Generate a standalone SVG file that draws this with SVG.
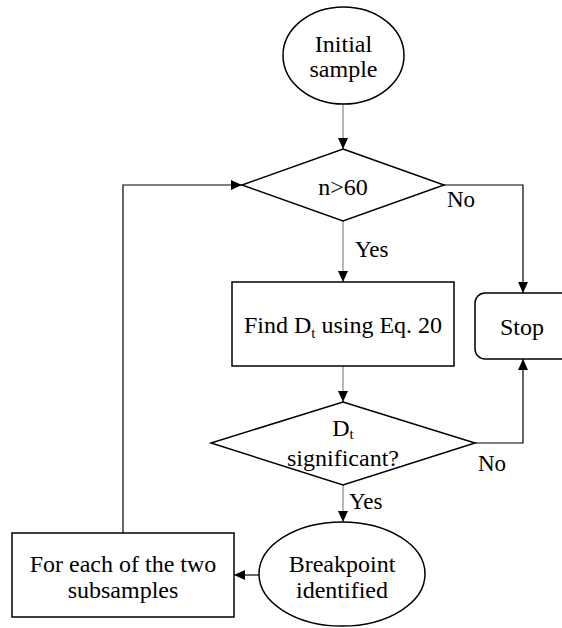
<svg xmlns="http://www.w3.org/2000/svg" width="562" height="628" viewBox="0 0 562 628">
<style>
.shape{fill:#fff;stroke:#000;stroke-width:1.5}
.t{font-family:"Liberation Serif","Times New Roman",serif;font-size:24px;fill:#000;text-anchor:middle}
.l{font-family:"Liberation Serif","Times New Roman",serif;font-size:23px;fill:#000}
.c{fill:none;stroke:#000;stroke-width:1.2}
.g{fill:none;stroke:#888;stroke-width:1.2}
.sub{font-size:15px}
</style>
<defs>
<marker id="ah" markerUnits="userSpaceOnUse" markerWidth="12" markerHeight="12" refX="11" refY="6" orient="auto">
<path d="M0,1 L11,6 L0,11 Z" fill="#000"/>
</marker>
</defs>
<rect width="562" height="628" fill="#fff"/>
<g id="connectors">
<line class="g" x1="343" y1="104" x2="343" y2="149" marker-end="url(#ah)"/>
<line class="g" x1="343" y1="221" x2="343" y2="282" marker-end="url(#ah)"/>
<polyline class="c" points="444,185 523,185 523,293" marker-end="url(#ah)"/>
<line class="g" x1="343" y1="366" x2="343" y2="402" marker-end="url(#ah)"/>
<polyline class="c" points="475,443 523,443 523,359" marker-end="url(#ah)"/>
<line class="g" x1="343" y1="485" x2="343" y2="522" marker-end="url(#ah)"/>
<line class="c" x1="259" y1="575" x2="234" y2="575" marker-end="url(#ah)"/>
<polyline class="c" points="123,533 123,185 242,185" marker-end="url(#ah)"/>
<text class="l" x="447" y="207">No</text>
<text class="l" x="355" y="257">Yes</text>
<text class="l" x="478" y="471">No</text>
<text class="l" x="349" y="509">Yes</text>
</g>
<g id="initial">
<ellipse class="shape" cx="343.5" cy="55.5" rx="60.5" ry="48.5"/>
<text class="t" x="343.5" y="52">Initial</text>
<text class="t" x="343.5" y="77">sample</text>
</g>
<g id="decision1">
<polygon class="shape" points="343,149 444,185 343,221 242,185"/>
<text class="t" x="343" y="195">n&gt;60</text>
</g>
<g id="find">
<rect class="shape" x="232" y="282" width="222" height="84"/>
<text class="t" x="343" y="333">Find D<tspan class="sub" dy="5">t</tspan><tspan dy="-5"> using Eq. 20</tspan></text>
</g>
<g id="stop">
<rect class="shape" x="475" y="293" width="110" height="66" rx="10" ry="10"/>
<text class="t" x="522" y="335">Stop</text>
</g>
<g id="decision2">
<polygon class="shape" points="343,402 475,443 343,485 211,443"/>
<text class="t" x="343" y="436">D<tspan class="sub" dy="3">t</tspan></text>
<text class="t" x="343" y="466">significant?</text>
</g>
<g id="breakpoint">
<ellipse class="shape" cx="342" cy="574" rx="83" ry="52"/>
<text class="t" x="342" y="572">Breakpoint</text>
<text class="t" x="342" y="598">identified</text>
</g>
<g id="foreach">
<rect class="shape" x="12" y="533" width="222" height="84"/>
<text class="t" x="123" y="572">For each of the two</text>
<text class="t" x="123" y="598">subsamples</text>
</g>
</svg>
